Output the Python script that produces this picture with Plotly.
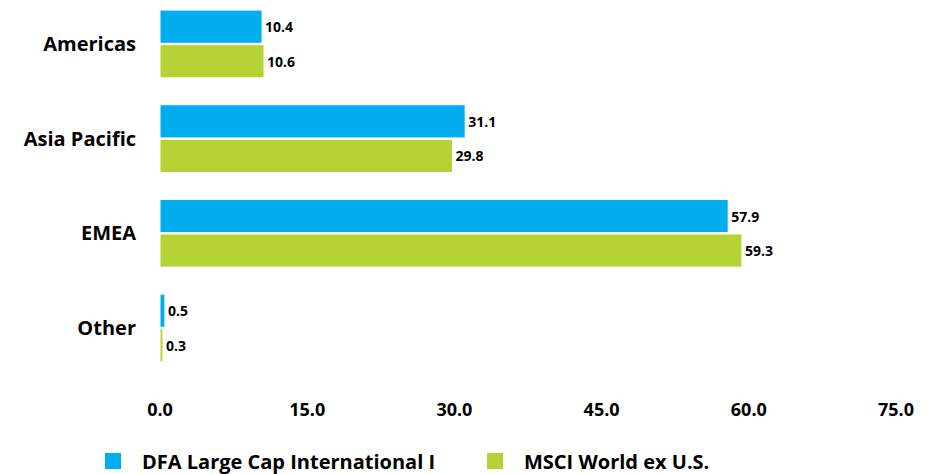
import plotly.graph_objects as go

categories = ["Americas", "Asia Pacific", "EMEA", "Other"]
dfa_values = [10.4, 31.1, 57.9, 0.5]
msci_values = [10.6, 29.8, 59.3, 0.3]
series_names = ["DFA Large Cap International I", "MSCI World ex U.S."]
tick_values = [0, 15, 30, 45, 60, 75]
tick_labels = ["0.0", "15.0", "30.0", "45.0", "60.0", "75.0"]

BLUE = "#00AEEF"
GREEN = "#B5D334"
FONT = "Open Sans"

fig = go.Figure()
series = [(series_names[0], dfa_values, BLUE, "legend"),
          (series_names[1], msci_values, GREEN, "legend2")]
for name, vals, col, leg in series:
    fig.add_trace(go.Bar(
        y=categories, x=vals, orientation="h", name=name,
        marker=dict(color=col, line=dict(color="white", width=1)),
        text=[f"{v:.1f}" for v in vals], textposition="outside",
        textfont=dict(family=FONT, size=14, color="black", weight="bold"),
        cliponaxis=False, showlegend=False,
    ))
    fig.add_trace(go.Scatter(
        x=[None], y=[None], mode="markers", name=name,
        marker=dict(symbol="square", size=21, color=col),
        showlegend=True, legend=leg,
    ))

legend_common = dict(orientation="h", xref="container", yref="container",
                     y=0.0443, xanchor="left", yanchor="middle",
                     bgcolor="rgba(0,0,0,0)", itemwidth=48,
                     font=dict(family=FONT, size=20, color="black", weight="bold"))

fig.update_layout(
    width=941, height=474,
    margin=dict(l=152, r=53, t=0, b=107, autoexpand=False),
    plot_bgcolor="white", paper_bgcolor="white",
    barmode="group", bargap=0.27, bargroupgap=0.04,
    xaxis=dict(range=[0, 75], tickvals=tick_values, ticktext=tick_labels,
               showgrid=False, zeroline=False, showline=False, automargin=False,
               ticks="outside", ticklen=18, tickcolor="rgba(0,0,0,0)",
               tickfont=dict(family=FONT, size=18, color="black", weight="bold")),
    yaxis=dict(range=[3.497, -0.380], showgrid=False, zeroline=False, showline=False,
               automargin=False,
               ticks="outside", ticklen=19, tickcolor="rgba(0,0,0,0)",
               tickfont=dict(family=FONT, size=20, color="black", weight="bold")),
    legend=dict(legend_common, x=76 / 941),
    legend2=dict(legend_common, x=458 / 941),
)

fig.write_html("out.html")
